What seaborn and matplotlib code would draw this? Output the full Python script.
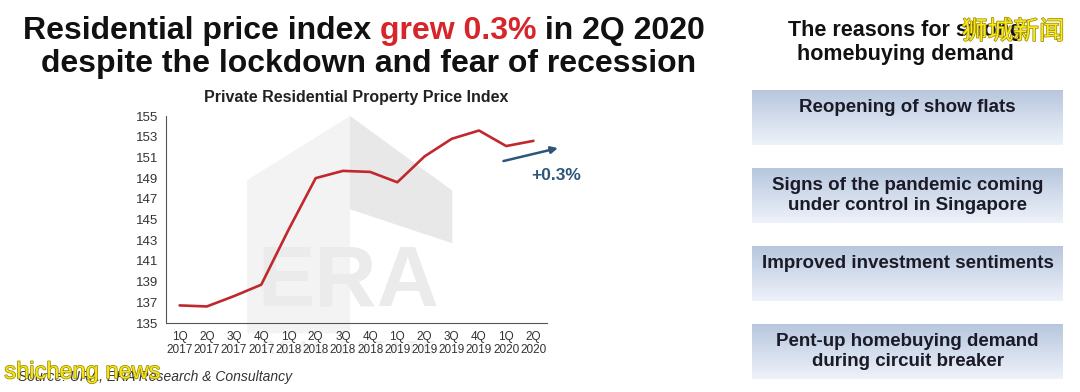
import numpy as np
import pandas as pd
import matplotlib
matplotlib.use("Agg")
import matplotlib.pyplot as plt
import matplotlib.patheffects as pe
from matplotlib.patches import Polygon
import seaborn as sns

# Data
quarters = ["1Q\n2017", "2Q\n2017", "3Q\n2017", "4Q\n2017",
            "1Q\n2018", "2Q\n2018", "3Q\n2018", "4Q\n2018",
            "1Q\n2019", "2Q\n2019", "3Q\n2019", "4Q\n2019",
            "1Q\n2020", "2Q\n2020"]
index_values = [136.7, 136.6, 137.6, 138.7, 144.0, 149.0, 149.7,
                149.6, 148.6, 151.1, 152.8, 153.6, 152.1, 152.6]
y_ticks = [135, 137, 139, 141, 143, 145, 147, 149, 151, 153, 155]
reasons = ["Reopening of show flats",
           "Signs of the pandemic coming\nunder control in Singapore",
           "Improved investment sentiments",
           "Pent-up homebuying demand\nduring circuit breaker"]

df = pd.DataFrame({"Quarter": quarters, "Index": index_values})

sns.set_style("white")
plt.rcParams["font.family"] = ["Liberation Sans", "DejaVu Sans"]

fig = plt.figure(figsize=(10.8, 3.92), dpi=100)
fig.patch.set_facecolor("white")

# Headline (first line built from three pieces)
hl = dict(fontsize=23, fontweight="bold", va="bottom")
t1 = fig.text(0.021, 0.882, "Residential price index ", color="#111111", ha="left", **hl)
t2 = fig.text(0, 0, "grew 0.3%", color="#d7262b", ha="left", **hl)
t3 = fig.text(0, 0, " in 2Q 2020", color="#111111", ha="left", **hl)
fig.canvas.draw()
r = fig.canvas.get_renderer()
bb1 = t1.get_window_extent(r)
t2.set_position((bb1.x1 / fig.bbox.width, 0.882))
bb2 = t2.get_window_extent(r)
t3.set_position((bb2.x1 / fig.bbox.width, 0.882))
fig.text(0.341, 0.836, "despite the lockdown and fear of recession", fontsize=23,
         fontweight="bold", color="#111111", va="center", ha="center")

# Chart
ax = fig.add_axes([0.1537, 0.176, 0.3528, 0.528])
ax.set_facecolor("none")

# faint ERA watermark behind the line
wm = fig.add_axes([0.1537, 0.176, 0.3528, 0.528], zorder=-1)
wm.set_xlim(0, 1)
wm.set_ylim(0, 1)
wm.axis("off")
wm.add_patch(Polygon([[0.213, -0.05], [0.213, 0.69], [0.483, 1.0], [0.751, 0.64],
                      [0.751, 0.386], [0.483, 0.55], [0.483, -0.05]],
                     closed=True, color="#f3f3f3", lw=0, clip_on=False))
wm.add_patch(Polygon([[0.483, 1.0], [0.751, 0.64], [0.751, 0.386], [0.483, 0.55]],
                     closed=True, color="#e8e8e8", lw=0, clip_on=False))
wm.text(0.478, 0.19, "ERA", fontsize=62, fontweight="bold", color="#ebebeb",
        ha="center", va="center")
wm.text(0.478, -0.13, "R E A L   E S T A T E", fontsize=13, fontweight="bold",
        color="#f0f0f0", ha="center", va="center")

sns.lineplot(data=df, x="Quarter", y="Index", ax=ax, color="#c0282d",
             linewidth=1.9, sort=False)

ax.set_xlim(-0.45, 13.5)
ax.set_ylim(135, 155)
ax.set_yticks(y_ticks)
ax.set_xticks(range(len(quarters)))
ax.set_xticklabels(quarters, fontsize=8.5, color="#333333", linespacing=1.1)
ax.set_xticks(np.arange(-0.5, 13.6, 1), minor=True)
ax.tick_params(axis="x", which="major", length=0, pad=6)
ax.tick_params(axis="x", which="minor", length=4, direction="out", color="#555555")
ax.tick_params(axis="y", length=4, direction="out", color="#555555",
               labelsize=9.5, labelcolor="#333333", pad=1.5)
ax.set_xlabel("")
ax.set_ylabel("")
sns.despine(ax=ax)
ax.spines["left"].set_color("#555555")
ax.spines["bottom"].set_color("#555555")

ax.set_title("Private Residential Property Price Index", fontsize=11.5,
             fontweight="bold", color="#222222", pad=10)

# +0.3% arrow and label
ax.annotate("", xy=(13.9, 151.9), xytext=(11.9, 150.65),
            xycoords="data", annotation_clip=False,
            arrowprops=dict(arrowstyle="-|>", color="#2d5579", lw=1.8,
                            mutation_scale=10, shrinkA=0, shrinkB=0))
ax.text(13.85, 149.3, "+0.3%", fontsize=12.5, fontweight="bold", color="#2d5579",
        ha="center", va="center", clip_on=False)

fig.text(0.017, 0.038, "Source: URA, ERA Research & Consultancy", fontsize=10,
         style="italic", color="#333333", va="center")

# Right-hand panel
fig.text(0.838, 0.921, "The reasons for strong", fontsize=15.5, fontweight="bold",
         color="#111111", ha="center", va="center")
fig.text(0.838, 0.862, "homebuying demand", fontsize=15.5, fontweight="bold",
         color="#111111", ha="center", va="center")

grad = np.linspace(0, 1, 64).reshape(-1, 1)
top_col = np.array([0.72, 0.78, 0.87])
bot_col = np.array([0.93, 0.95, 0.98])
grad_img = top_col + (bot_col - top_col) * grad
grad_img = grad_img.reshape(64, 1, 3)

box_tops = [90, 168, 246, 324]
box_h = 55
for top, label in zip(box_tops, reasons):
    bax = fig.add_axes([752 / 1080, 1 - (top + box_h) / 392, 311 / 1080, box_h / 392])
    bax.imshow(grad_img, aspect="auto", extent=[0, 1, 0, 1])
    bax.set_xlim(0, 1)
    bax.set_ylim(0, 1)
    bax.axis("off")
    n_lines = label.count("\n") + 1
    y_txt = 0.69 if n_lines == 1 else 0.50
    bax.text(0.5, y_txt, label, fontsize=13.5, fontweight="bold", color="#1b1b28",
             ha="center", va="center", linespacing=1.2)

# overlay tags from the source image
tag_fx = [pe.withStroke(linewidth=1.0, foreground="#9a8400")]
fig.text(0.986, 0.918, "狮城新闻", fontsize=18.5, color="#f6ea1e", ha="right",
         va="center", family=["Noto Sans CJK SC", "DejaVu Sans"], path_effects=tag_fx)
fig.text(0.004, 0.05, "shicheng news", fontsize=17, color="#f0e41c", ha="left",
         va="center", path_effects=tag_fx)

fig.savefig("out.png", dpi=100, facecolor="white")
